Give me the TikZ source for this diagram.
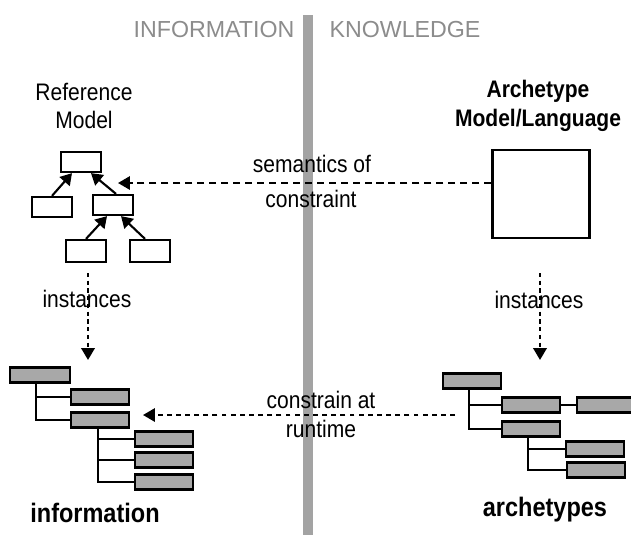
\documentclass[tikz,border=0pt]{standalone}
\usepackage{fontspec}
\setmainfont[FakeStretch=0.88]{Liberation Sans}
\newfontfamily\headfont{Liberation Sans}
\usetikzlibrary{arrows.meta,calc}
\definecolor{bargray}{gray}{0.64}
\definecolor{boxgray}{gray}{0.66}

\begin{document}
\begin{tikzpicture}[x=0.025cm, y=-0.025cm,
  lbl/.style={font=\fontsize{17}{20.5}\selectfont, align=center, inner sep=0pt},
  boldlbl/.style={lbl, font=\fontsize{17}{20.5}\selectfont\bfseries},
  head/.style={font=\headfont\fontsize{16.5}{19}\selectfont, text=black!45, inner sep=0pt},
  refbox/.style={draw, line width=1.6pt, fill=white, minimum width=1cm, minimum height=0.5cm, inner sep=0pt},
  treebox/.style={draw, line width=1.6pt, fill=boxgray, minimum width=1.45cm, minimum height=0.38cm, inner sep=0pt},
  tree/.style={line width=1.2pt},
  isa/.style={line width=1.5pt, -{Triangle[length=8pt,width=9.5pt]}},
  dasharr/.style={line width=1.4pt, dash pattern=on 5pt off 3.5pt, -{Triangle[length=8.5pt,width=9.5pt]}},
  instarr/.style={line width=1.7pt, dash pattern=on 3pt off 2.5pt, -{Triangle[length=8.5pt,width=9.5pt]}}]
\clip (0,0) rectangle (631,535);
\fill[white] (0,0) rectangle (631,535);
% divider
\fill[bargray] (303,15) rectangle (313,535);
\node[head] (hinfo) at (214,30) {INFORMATION};
\node[head] (hknow) at (405,30) {KNOWLEDGE};

% reference model
\node[lbl] (refname) at (84,106) {Reference\\Model};
\node[refbox] (rtop) at (81,162) {};
\node[refbox] (rl) at (52,207) {};
\node[refbox] (rm) at (113,205) {};
\node[refbox, minimum height=0.55cm] (rbl) at (86,251) {};
\node[refbox, minimum height=0.55cm] (rbr) at (150,251) {};
\draw[isa] (rl.north) -- ($(rtop.south)+(-9,0)$);
\draw[isa] ($(rm.north)+(3,0)$) -- ($(rtop.south)+(10,0)$);
\draw[isa] (rbl.north) -- ($(rm.south)+(-6,0)$);
\draw[isa] ($(rbr.north)+(-5,0)$) -- ($(rm.south)+(8,0)$);

% archetype model
\node[boldlbl] (archname) at (538,106) {Archetype\\Model/Language};
\node[draw, line width=2pt, minimum width=2.425cm, minimum height=2.2cm, inner sep=0pt] (arch) at (541,194) {};
\coordinate (semtip) at (118,183);
\draw[dasharr] ($(arch.west)+(0,-11)$) -- (semtip);
\node[lbl] (sem1) at (312,164) {semantics of};
\node[lbl] (sem2) at (311,199) {constraint};

% instances
\coordinate (linst0) at (88,273);
\coordinate (linst1) at (88,360);
\coordinate (rinst0) at (540,273);
\coordinate (rinst1) at (540,360);
\draw[instarr] (linst0) -- (linst1);
\draw[instarr] (rinst0) -- (rinst1);
\node[lbl] (linst) at (87,299) {instances};
\node[lbl] (rinst) at (539,300) {instances};

% information
\node[treebox, minimum width=1.5cm] (i1) at (40,375) {};
\node[treebox] (i2) at (100,397) {};
\node[treebox] (i3) at (100,420) {};
\node[treebox] (i4) at (164,439) {};
\node[treebox] (i5) at (164,460) {};
\node[treebox] (i6) at (164,482) {};
\draw[tree] ($(i1.south west)+(27,0)$) |- (i2.west);
\draw[tree] ($(i1.south west)+(27,0)$) |- (i3.west);
\draw[tree] ($(i3.south west)+(28,0)$) |- (i4.west);
\draw[tree] ($(i3.south west)+(28,0)$) |- (i5.west);
\draw[tree] ($(i3.south west)+(28,0)$) |- (i6.west);
\node[boldlbl, font=\fontsize{19}{22}\selectfont\bfseries] (infoname) at (95,513) {information};

% archetypes
\node[treebox] (a1) at (472,381) {};
\node[treebox] (a2) at (531,405) {};
\node[treebox] (a2b) at (606,405) {};
\node[treebox] (a3) at (531,429) {};
\node[treebox] (a4) at (595,449) {};
\node[treebox] (a5) at (596,470) {};
\draw[tree] (a2.east) -- (a2b.west);
\draw[tree] ($(a1.south west)+(27,0)$) |- (a2.west);
\draw[tree] ($(a1.south west)+(27,0)$) |- (a3.west);
\draw[tree] ($(a3.south west)+(27,0)$) |- (a4.west);
\draw[tree] ($(a3.south west)+(27,0)$) |- (a5.west);
\node[boldlbl, font=\fontsize{19}{22}\selectfont\bfseries] (archsname) at (545,510) {archetypes};

% constrain at runtime
\coordinate (cstart) at (455,415);
\coordinate (ctip) at (143,415);
\draw[dasharr, dash pattern=on 3.5pt off 3pt] (cstart) -- (ctip);
\node[lbl] (con1) at (321,400) {constrain at};
\node[lbl] (con2) at (321,429) {runtime};
\end{tikzpicture}
\end{document}
